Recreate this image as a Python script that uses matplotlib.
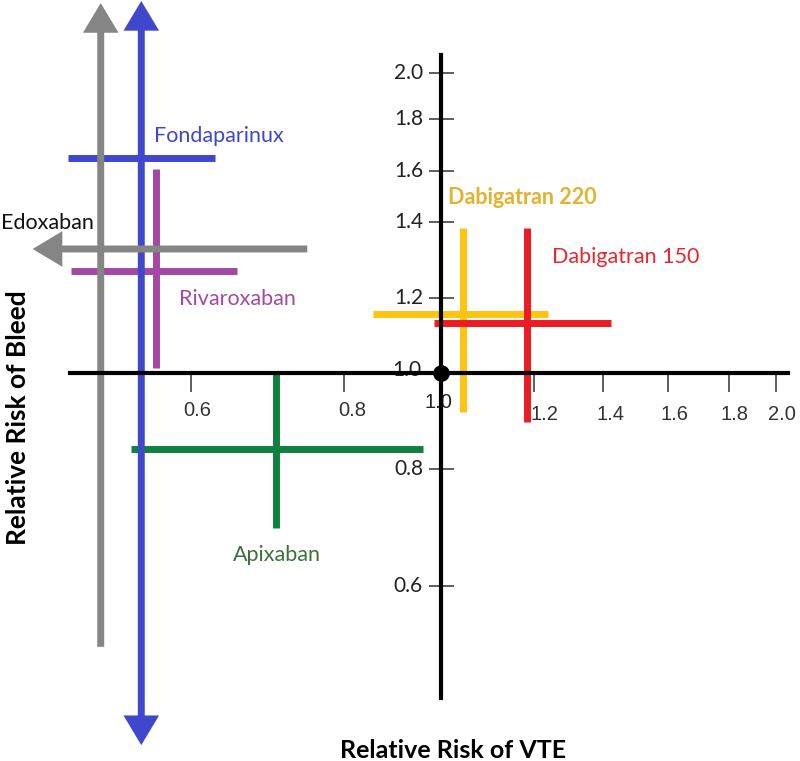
import numpy as np
import matplotlib
matplotlib.use('Agg')
import matplotlib.pyplot as plt

# drawn axis is not linear: value -> pixel anchors
x_anchor_val = [0.2, 0.4, 0.6, 0.8, 1.0, 1.2, 1.4, 1.6, 1.8, 2.0, 2.2, 2.4]
x_anchor_px = [-115, 38, 191, 344, 441, 534, 603, 668, 729, 776, 823, 870]
y_anchor_val = [0.2, 0.4, 0.6, 0.8, 1.0, 1.2, 1.4, 1.6, 1.8, 2.0, 2.2, 2.4]
y_anchor_px = [-59, 58, 175, 292, 388, 463, 539, 590, 642, 688, 734, 780]  # from bottom

######################
# data
drugs = ['Apixaban', 'Rivaroxaban', 'Fondaparinux', 'Edoxaban', 'Dabigatran 220', 'Dabigatran 150']
colors = ['#108040', '#a349a4', '#3f48cc', '#858585', '#ffc40e', '#ed1c24']
label_colors = ['#3f6f3f', '#a349a4', '#3f48cc', '#111111', '#e3b32f', '#e8262b']
label_bold = [False, False, False, False, True, False]

vte_est = [0.711, 0.554, 0.535, 0.482, 1.047, 1.185]
vte_lo = [0.522, 0.443, 0.439, 0.393, 0.860, 0.986]
vte_hi = [0.963, 0.660, 0.631, 0.752, 1.241, 1.425]
bleed_est = [0.842, 1.271, 1.650, 1.329, 1.157, 1.133]
bleed_lo = [0.699, 1.013, 0.328, 0.496, 0.919, 0.898]
bleed_hi = [1.000, 1.608, 2.313, 2.304, 1.384, 1.384]

# open ended intervals (drawn as arrows)
arrow_vte_lo = [False, False, False, True, False, False]
arrow_bleed_lo = [False, False, True, False, False, False]
arrow_bleed_hi = [False, False, True, True, False, False]

label_x = [0.655, 0.584, 0.551, 0.351, 1.015, 1.253]
label_y = [0.653, 1.197, 1.735, 1.397, 1.498, 1.308]

x_ticks = [0.6, 0.8, 1.2, 1.4, 1.6, 1.8, 2.0]
y_ticks = [0.6, 0.8, 1.2, 1.4, 1.6, 1.8, 2.0]
x_axis_range = [0.442, 2.05]
y_axis_range = [0.409, 2.078]


def fx(v):
    return np.interp(v, x_anchor_val, x_anchor_px)

def fx_inv(p):
    return np.interp(p, x_anchor_px, x_anchor_val)

def fy(v):
    return np.interp(v, y_anchor_val, y_anchor_px)

def fy_inv(p):
    return np.interp(p, y_anchor_px, y_anchor_val)


fig = plt.figure(figsize=(8, 7.61), dpi=100)
ax = fig.add_axes([0, 0, 1, 1])
ax.set_xscale('function', functions=(fx, fx_inv))
ax.set_yscale('function', functions=(fy, fy_inv))
ax.set_xlim(fx_inv(0), fx_inv(800))
ax.set_ylim(fy_inv(0), fy_inv(761))
ax.set_facecolor('white')

# crosshair axes through (1, 1)
for s in ['top', 'right']:
    ax.spines[s].set_visible(False)
ax.spines['left'].set_position(('data', 1.0))
ax.spines['bottom'].set_position(('data', 1.0))
ax.spines['left'].set_bounds(*y_axis_range)
ax.spines['bottom'].set_bounds(*x_axis_range)
for s in ['left', 'bottom']:
    ax.spines[s].set_linewidth(3)
    ax.spines[s].set_zorder(3)
ax.set_xticks(x_ticks)
ax.set_yticks(y_ticks)
ax.xaxis.set_minor_locator(plt.NullLocator())
ax.yaxis.set_minor_locator(plt.NullLocator())
ax.tick_params(axis='x', direction='out', length=14, width=1.1, color='#333333', labelbottom=False)
ax.tick_params(axis='y', direction='inout', length=18, width=1.1, color='#333333', labelleft=False)

# tick labels
x_off = {0.6: (6, -37), 0.8: (8, -37), 1.2: (10, -41), 1.4: (7, -41),
         1.6: (7, -41), 1.8: (6, -41), 2.0: (6, -41)}
for v in x_ticks:
    ax.annotate('%.1f' % v, (v, 1.0), xytext=x_off[v], textcoords='offset pixels',
                ha='center', va='center', fontsize=14.5, color='#333333',
                family='Liberation Sans')
ax.annotate('1.0', (1.0, 1.0), xytext=(-3, -29), textcoords='offset pixels',
            ha='center', va='center', fontsize=14.5, color='#222222', family='Liberation Sans')
for v in y_ticks:
    ax.annotate('%.1f' % v, (1.0, v), xytext=(-18, 0), textcoords='offset pixels',
                ha='right', va='center', fontsize=15, color='#222222', family='Lato')
ax.annotate('1.0', (1.0, 1.0), xytext=(-20, 3), textcoords='offset pixels',
            ha='right', va='center', fontsize=15, color='#222222', family='Lato')

# crosses
def seg(x0, y0, x1, y1, c, a0, a1):
    if not a0 and not a1:
        ax.plot([x0, x1], [y0, y1], color=c, lw=5, solid_capstyle='butt', zorder=2)
        return
    style = '<|-|>' if (a0 and a1) else '-|>'
    if a0 and not a1:
        x0, y0, x1, y1 = x1, y1, x0, y0
    ax.annotate('', xy=(x1, y1), xytext=(x0, y0),
                arrowprops=dict(arrowstyle=style + ',head_length=0.7,head_width=0.42',
                                lw=5, color=c, shrinkA=0, shrinkB=0, mutation_scale=20,
                                joinstyle='miter', capstyle='butt'),
                zorder=2)

for i in range(len(drugs)):
    c = colors[i]
    seg(vte_est[i], bleed_lo[i], vte_est[i], bleed_hi[i], c, arrow_bleed_lo[i], arrow_bleed_hi[i])
    seg(vte_lo[i], bleed_est[i], vte_hi[i], bleed_est[i], c, arrow_vte_lo[i], False)
    ax.text(label_x[i], label_y[i], drugs[i], ha='left', va='center', fontsize=15.5,
            color=label_colors[i], family='Lato',
            fontweight='bold' if label_bold[i] else 'normal')

ax.plot([1.0], [1.0], 'o', ms=11, color='black', zorder=5)

fig.text(18 / 800, 1 - 418 / 761, 'Relative Risk of Bleed', rotation=90, ha='center',
         va='center', fontsize=19, fontweight='bold', family='Lato')
fig.text(453 / 800, 1 - 750 / 761, 'Relative Risk of VTE', ha='center', va='center',
         fontsize=18, fontweight='bold', family='Lato')

fig.savefig('out.png', dpi=100, facecolor='white')
